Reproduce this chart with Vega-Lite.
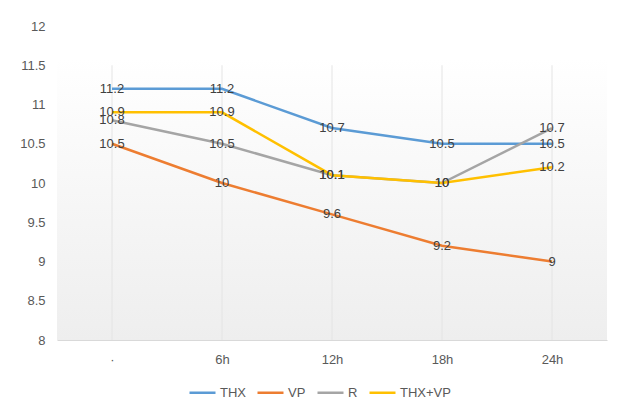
{
  "$schema": "https://vega.github.io/schema/vega-lite/v6.json",
  "width": 550,
  "height": 314,
  "autosize": {"type": "none"},
  "padding": {"left": 57, "top": 26, "right": 15, "bottom": 68},
  "background": "white",
  "config": {
    "font": "Liberation Sans",
    "view": {"stroke": null},
    "axisX": {
      "title": null, "labelAngle": 0, "ticks": false,
      "domainColor": "#d9d9d9", "domainWidth": 1, "grid": false,
      "labelFontSize": 13, "labelColor": "#595959", "labelPadding": 13
    },
    "axisY": {
      "title": null, "grid": false, "domain": false, "ticks": false,
      "labelOverlap": false, "labelFontSize": 13, "labelColor": "#595959",
      "labelPadding": 12
    }
  },
  "datasets": {
    "times": [
      {"time": "·"}, {"time": "6h"}, {"time": "12h"}, {"time": "18h"}, {"time": "24h"}
    ],
    "series": [
      {"time": "·", "series": "THX", "value": 11.2},
      {"time": "6h", "series": "THX", "value": 11.2},
      {"time": "12h", "series": "THX", "value": 10.7},
      {"time": "18h", "series": "THX", "value": 10.5},
      {"time": "24h", "series": "THX", "value": 10.5},
      {"time": "·", "series": "VP", "value": 10.5},
      {"time": "6h", "series": "VP", "value": 10},
      {"time": "12h", "series": "VP", "value": 9.6},
      {"time": "18h", "series": "VP", "value": 9.2},
      {"time": "24h", "series": "VP", "value": 9},
      {"time": "·", "series": "R", "value": 10.8},
      {"time": "6h", "series": "R", "value": 10.5},
      {"time": "12h", "series": "R", "value": 10.1},
      {"time": "18h", "series": "R", "value": 10},
      {"time": "24h", "series": "R", "value": 10.7},
      {"time": "·", "series": "THX+VP", "value": 10.9},
      {"time": "6h", "series": "THX+VP", "value": 10.9},
      {"time": "12h", "series": "THX+VP", "value": 10.1},
      {"time": "18h", "series": "THX+VP", "value": 10},
      {"time": "24h", "series": "THX+VP", "value": 10.2}
    ]
  },
  "layer": [
    {
      "data": {"values": [{}]},
      "mark": {
        "type": "rect",
        "fill": {
          "gradient": "linear", "x1": 0, "y1": 0, "x2": 0, "y2": 1,
          "stops": [{"offset": 0, "color": "#ffffff"}, {"offset": 1, "color": "#eeeeee"}]
        }
      },
      "encoding": {
        "y": {
          "datum": 11.6, "type": "quantitative",
          "scale": {"domain": [8, 12], "nice": false, "zero": false},
          "axis": {"values": [8, 8.5, 9, 9.5, 10, 10.5, 11, 11.5, 12], "format": "~g", "labelOverlap": false}
        },
        "y2": {"datum": 8}
      }
    },
    {
      "data": {"name": "times"},
      "mark": {"type": "rule", "color": "#e4e4e4", "strokeWidth": 1},
      "encoding": {
        "x": {
          "field": "time", "type": "ordinal",
          "sort": ["·", "6h", "12h", "18h", "24h"],
          "scale": {"type": "point", "padding": 0.5}
        },
        "y": {
          "datum": 11.5, "type": "quantitative",
          "scale": {"domain": [8, 12], "nice": false, "zero": false},
          "axis": {"values": [8, 8.5, 9, 9.5, 10, 10.5, 11, 11.5, 12], "format": "~g", "labelOverlap": false}
        },
        "y2": {"datum": 8}
      }
    },
    {
      "data": {"name": "series"},
      "mark": {"type": "line", "strokeWidth": 2.5},
      "encoding": {
        "x": {
          "field": "time", "type": "ordinal",
          "sort": ["·", "6h", "12h", "18h", "24h"],
          "scale": {"type": "point", "padding": 0.5}
        },
        "y": {
          "field": "value", "type": "quantitative",
          "scale": {"domain": [8, 12], "nice": false, "zero": false},
          "axis": {"values": [8, 8.5, 9, 9.5, 10, 10.5, 11, 11.5, 12], "format": "~g", "labelOverlap": false}
        },
        "color": {
          "field": "series", "type": "nominal",
          "sort": ["THX", "VP", "R", "THX+VP"],
          "scale": {
            "domain": ["THX", "VP", "R", "THX+VP"],
            "range": ["#5B9BD5", "#ED7D31", "#A5A5A5", "#FFC000"]
          },
          "legend": {
            "title": null, "orient": "none", "direction": "horizontal",
            "legendX": 131, "legendY": 352,
            "symbolType": "stroke", "symbolSize": 676, "symbolStrokeWidth": 2.5,
            "labelFontSize": 13, "labelColor": "#595959", "columnPadding": 6,
            "labelOffset": 3
          }
        }
      }
    },
    {
      "data": {"name": "series"},
      "mark": {"type": "text", "fontSize": 13, "color": "#404040", "baseline": "middle", "align": "center"},
      "encoding": {
        "x": {
          "field": "time", "type": "ordinal",
          "sort": ["·", "6h", "12h", "18h", "24h"],
          "scale": {"type": "point", "padding": 0.5}
        },
        "y": {
          "field": "value", "type": "quantitative",
          "scale": {"domain": [8, 12], "nice": false, "zero": false},
          "axis": {"values": [8, 8.5, 9, 9.5, 10, 10.5, 11, 11.5, 12], "format": "~g", "labelOverlap": false}
        },
        "text": {"field": "value", "type": "quantitative", "format": "~g"}
      }
    }
  ]
}
